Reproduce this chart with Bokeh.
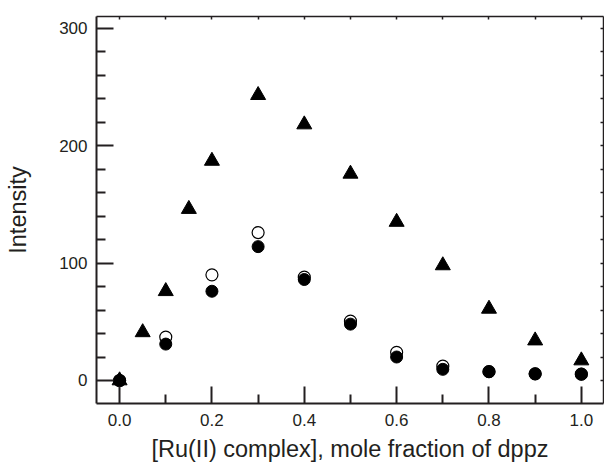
from bokeh.plotting import figure
from bokeh.models import LinearAxis, FixedTicker, Range1d, CustomJSTickFormatter
from bokeh.embed import file_html
from bokeh.resources import INLINE

# Data
x_tri = [0.0, 0.05, 0.1, 0.15, 0.2, 0.3, 0.4, 0.5, 0.6, 0.7, 0.8, 0.9, 1.0]
y_tri = [0, 41, 76, 146, 187, 243, 218, 176, 135, 98, 61, 34, 17]

x_circ = [0.0, 0.1, 0.2, 0.3, 0.4, 0.5, 0.6, 0.7, 0.8, 0.9, 1.0]
y_filled = [0, 31, 76, 114, 86, 48, 20, 9.5, 7.5, 5.7, 5.4]
y_open = [0, 37, 90, 126, 88, 50.5, 24, 12.2, 7.5, 5.7, 5.4]

x_major = [0.0, 0.2, 0.4, 0.6, 0.8, 1.0]
x_minor = [0.1, 0.3, 0.5, 0.7, 0.9]
y_major = [0, 100, 200, 300]
y_minor = [-20, 20, 40, 60, 80, 120, 140, 160, 180, 220, 240, 260, 280]
x_top_ticks = [round(0.1 * i, 1) for i in range(11)]
y_right_ticks = list(range(-20, 320, 20))

FONT = "Liberation Sans"
INK = "#231f20"

p = figure(frame_width=507, frame_height=387,
           x_range=Range1d(-0.05, 1.048), y_range=Range1d(-19.6, 310),
           output_backend="svg", toolbar_location=None,
           min_border_left=96, min_border_right=1, min_border_top=16, min_border_bottom=50,
           background_fill_color="white", border_fill_color="white")
p.outline_line_color = None
p.xgrid.visible = False
p.ygrid.visible = False

for ax in (p.xaxis[0], p.yaxis[0]):
    ax.axis_line_color = INK
    ax.axis_line_width = 2
    ax.major_tick_line_color = INK
    ax.minor_tick_line_color = INK
    ax.major_tick_line_width = 2
    ax.minor_tick_line_width = 2
    ax.major_tick_in = 17
    ax.major_tick_out = 0
    ax.minor_tick_in = 9
    ax.minor_tick_out = 0
    ax.major_label_text_font = FONT
    ax.major_label_text_font_size = "17px"
    ax.major_label_text_color = INK
    ax.axis_label_text_font = FONT
    ax.axis_label_text_font_size = "23.5px"
    ax.axis_label_text_font_style = "normal"
    ax.axis_label_text_color = INK

p.xaxis[0].ticker = FixedTicker(ticks=x_major, minor_ticks=x_minor)
p.xaxis[0].major_label_overrides = {v: f"{v:.1f}" for v in x_major}
p.xaxis[0].axis_label = "[Ru(II) complex], mole fraction of dppz"
p.xaxis[0].major_label_standoff = 10
p.xaxis[0].axis_label_standoff = 7

p.yaxis[0].ticker = FixedTicker(ticks=y_major, minor_ticks=y_minor)
p.yaxis[0].axis_label = "Intensity"
p.yaxis[0].major_label_standoff = 9
p.yaxis[0].axis_label_standoff = 25

blank = CustomJSTickFormatter(code="return ''")
top = LinearAxis(ticker=FixedTicker(ticks=x_top_ticks), formatter=blank)
right = LinearAxis(ticker=FixedTicker(ticks=y_right_ticks), formatter=blank)
for ax in (top, right):
    ax.axis_line_color = INK
    ax.axis_line_width = 1.5
    ax.major_tick_line_color = INK
    ax.major_tick_line_width = 1.5
    ax.major_tick_in = 3
    ax.major_tick_out = 0
    ax.minor_tick_line_color = None
    ax.major_label_standoff = 0
    ax.major_label_text_color = None
p.add_layout(top, "above")
p.add_layout(right, "right")

p.scatter(x_circ, y_open, marker="circle", size=12, fill_color="white",
          line_color="black", line_width=1.2)
p.scatter(x_circ, y_filled, marker="circle", size=12, fill_color="black",
          line_color="black", line_width=1)
p.scatter(x_tri, y_tri, marker="triangle", size=15, fill_color="black",
          line_color="black", line_width=1)

open("out.html", "w").write(file_html(p, INLINE))
